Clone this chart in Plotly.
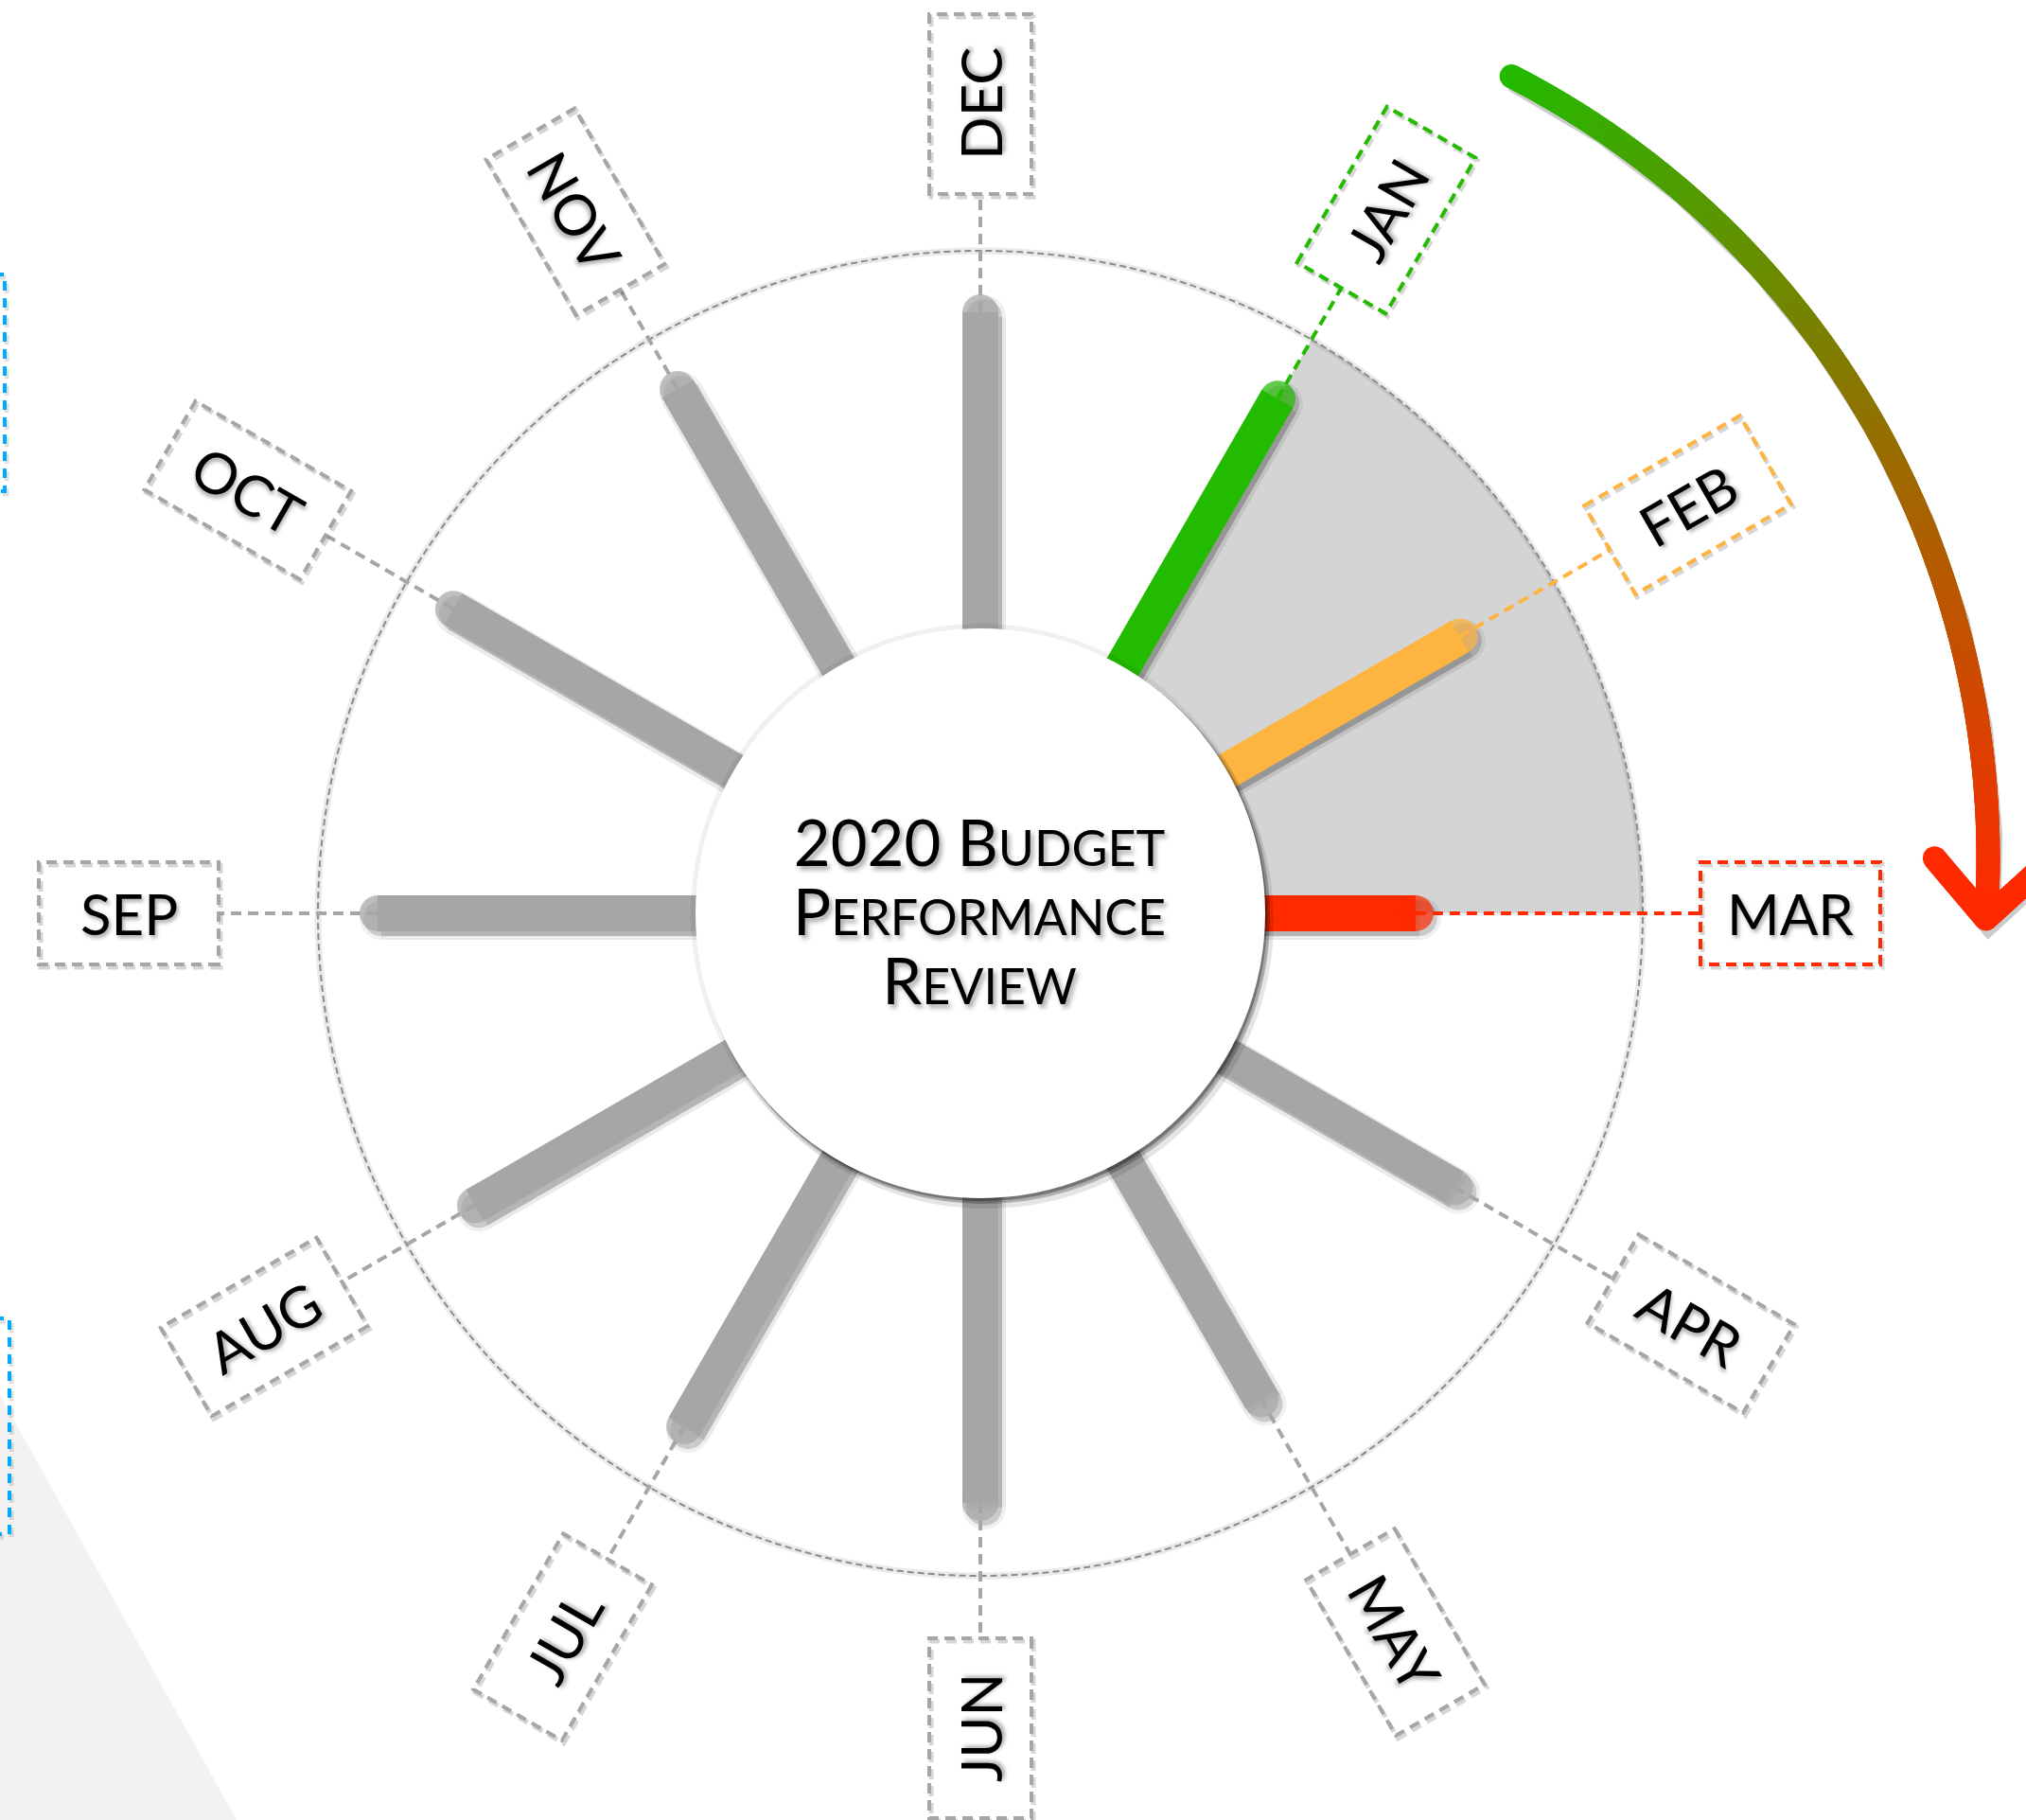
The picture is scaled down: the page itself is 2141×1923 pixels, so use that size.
import numpy as np
import plotly.graph_objects as go

# ------------------------------------------------------------------ data
MONTHS = ["JAN", "FEB", "MAR", "APR", "MAY", "JUN",
          "JUL", "AUG", "SEP", "OCT", "NOV", "DEC"]
PERFORMANCE = [89.7, 83.6, 65.7, 82.7, 84.7, 89.0,
               89.4, 88.1, 91.0, 91.9, 91.4, 90.7]
STATUS = ["good", "warning", "bad", "pending", "pending", "pending",
          "pending", "pending", "pending", "pending", "pending", "pending"]
REVIEWED_MONTHS = ["JAN", "FEB", "MAR"]
FULL_SCALE = 100
TITLE_LINES = ["2020 Budget", "Performance", "Review"]

# ------------------------------------------------------------------ style / layout
STATUS_COLORS = {"good": "#22bb00", "warning": "#fdb441",
                 "bad": "#ff2a00", "pending": "#a6a6a6"}
W, H = 2141, 1923
OFF = 0                       # body margin removed via post_script
CX, CY = 1036, 965            # chart centre in screen px
PX_PER_UNIT = 7.0
POLAR_R_PX = 940
RMAX = POLAR_R_PX / PX_PER_UNIT
SPOKE_W = 38
INNER_R_PX = 301
LABEL_R_PX = [858, 863, 856, 867, 877, 861, 883, 874, 900, 894, 856, 855]
BOX_L, BOX_W = 190, 108
SH_DX, SH_DY = 4, 5
LABEL_FONT = "Lato, 'Noto Sans', sans-serif"
TITLE_FONT = "Lato, 'Noto Sans', sans-serif"


def polar_domain(dx=0, dy=0):
    px = CX - OFF + dx
    yb = H - (CY - OFF + dy)
    return dict(x=[(px - POLAR_R_PX) / W, (px + POLAR_R_PX) / W],
                y=[(yb - POLAR_R_PX) / H, (yb + POLAR_R_PX) / H])


def polar_layout(dom, category):
    aa = dict(visible=False, rotation=60, direction="clockwise")
    if category:
        aa.update(type="category", categoryarray=MONTHS)
    else:
        aa.update(type="linear", thetaunit="degrees")
    return dict(domain=dom, bgcolor="rgba(0,0,0,0)",
                radialaxis=dict(visible=False, range=[0, RMAX]),
                angularaxis=aa)


fig = go.Figure()

# ---------------- base polar: reviewed sector + outer ring
idx = [MONTHS.index(m) for m in REVIEWED_MONTHS]
fig.add_trace(go.Barpolar(
    r=[FULL_SCALE], theta=[np.mean(idx) * 30], width=[(max(idx) - min(idx)) * 30],
    marker=dict(color="#d4d4d4", line=dict(width=0)),
    subplot="polar", hoverinfo="skip"))
ring = np.linspace(0, 360, 721)
fig.add_trace(go.Scatterpolar(r=[FULL_SCALE] * len(ring), theta=ring, mode="lines",
                              line=dict(color="black", width=7), opacity=0.08,
                              subplot="polar", hoverinfo="skip"))
fig.add_trace(go.Scatterpolar(r=[FULL_SCALE] * len(ring), theta=ring, mode="lines",
                              line=dict(color="#8a8a8a", width=2, dash="7px,4px"),
                              subplot="polar", hoverinfo="skip"))

# ---------------- shadow polar (offset)
for m, v, s in zip(MONTHS, PERFORMANCE, STATUS):
    for w, op in ((SPOKE_W + 8, 0.08), (SPOKE_W, 0.22)):
        fig.add_trace(go.Scatterpolar(
            r=[0, v], theta=[m, m], mode="lines+markers",
            line=dict(color="black", width=w),
            marker=dict(size=[0, w], color="black", line=dict(width=0)),
            opacity=op, subplot="polar2", hoverinfo="skip"))

# ---------------- main polar: connectors + spokes
for i, (m, v, s) in enumerate(zip(MONTHS, PERFORMANCE, STATUS)):
    r_box = (LABEL_R_PX[i] - BOX_L / 2) / PX_PER_UNIT
    fig.add_trace(go.Scatterpolar(
        r=[v, r_box], theta=[m, m], mode="lines",
        line=dict(color=STATUS_COLORS[s], width=4, dash="11px,7px"),
        subplot="polar3", hoverinfo="skip"))
for m, v, s in zip(MONTHS, PERFORMANCE, STATUS):
    c = STATUS_COLORS[s]
    fig.add_trace(go.Scatterpolar(
        r=[0, v], theta=[m, m], mode="lines+markers",
        line=dict(color=c, width=SPOKE_W),
        marker=dict(size=[0, SPOKE_W], color=c, line=dict(width=0)),
        subplot="polar3", name=m,
        hovertemplate=m + ": %{r}<extra></extra>"))

# ---------------- gradient arrow (cartesian screen-pixel space)
ARC_CX, ARC_CY, ARC_R = 1173, 906, 928
ARC_A0, ARC_A1 = 62.8, -4.0
a = np.radians(np.linspace(ARC_A0, ARC_A1, 700))
ax_ = ARC_CX + ARC_R * np.cos(a)
ay_ = ARC_CY - ARC_R * np.sin(a)
c0, c1 = np.array([34, 187, 0]), np.array([255, 42, 0])
tt = np.linspace(0, 1, len(a))
cols = ["rgb(%d,%d,%d)" % tuple((c0 + (c1 - c0) * t).round()) for t in tt]
ex, ey = ax_[-1], ay_[-1]
b = np.array([ax_[-8] - ex, ay_[-8] - ey])
b /= np.linalg.norm(b)
wings = []
for ang in (44, -44):
    ra = np.radians(ang)
    rb = np.array([b[0] * np.cos(ra) - b[1] * np.sin(ra), b[0] * np.sin(ra) + b[1] * np.cos(ra)])
    wings.append((ex + 84 * rb[0], ey + 84 * rb[1]))
AW = 25
fig.add_trace(go.Scatter(x=ax_ + 3, y=ay_ + 4, mode="lines",
                         line=dict(color="black", width=AW), opacity=0.2, hoverinfo="skip"))
fig.add_trace(go.Scatter(x=[wings[0][0] + 3, ex + 3, wings[1][0] + 3],
                         y=[wings[0][1] + 4, ey + 4, wings[1][1] + 4], mode="lines",
                         line=dict(color="black", width=AW), opacity=0.2, hoverinfo="skip"))
fig.add_trace(go.Scatter(x=ax_, y=ay_, mode="markers",
                         marker=dict(size=AW, color=cols, line=dict(width=0)), hoverinfo="skip"))
hx, hy = [], []
for wx, wy in wings:
    s_ = np.linspace(0, 1, 60)
    hx += list(ex + (wx - ex) * s_)
    hy += list(ey + (wy - ey) * s_)
fig.add_trace(go.Scatter(x=hx, y=hy, mode="markers",
                         marker=dict(size=AW, color=cols[-1], line=dict(width=0)), hoverinfo="skip"))

# ---------------- shapes
shapes = []
shapes.append(dict(type="path", xref="x", yref="y", layer="below",
                   path="M 0,1474 L 250,1923 L 0,1923 Z",
                   fillcolor="#f2f2f2", line=dict(width=0)))
for (x0, x1, y0, y1) in ((-60, 5, 290, 519), (-60, 10, 1393, 1621)):
    shapes.append(dict(type="rect", xref="x", yref="y", x0=x0 + 2, x1=x1 + 2, y0=y0 + 3, y1=y1 + 3,
                       line=dict(color="rgba(0,0,0,0.12)", width=5, dash="10px,8px"), layer="above"))
    shapes.append(dict(type="rect", xref="x", yref="y", x0=x0, x1=x1, y0=y0, y1=y1,
                       line=dict(color="#00aaff", width=4, dash="10px,8px"), layer="above"))

annotations = []
for i, (m, s) in enumerate(zip(MONTHS, STATUS)):
    th = 60 - 30 * i
    thn = ((th + 180) % 360) - 180
    tr = np.radians(th)
    ux, uy = np.cos(tr), -np.sin(tr)
    vx, vy = np.sin(tr), np.cos(tr)
    R = LABEL_R_PX[i]
    cx, cy = CX + R * ux, CY + R * uy
    pts = []
    for su, sv in ((-1, -1), (1, -1), (1, 1), (-1, 1)):
        pts.append((cx + su * ux * BOX_L / 2 + sv * vx * BOX_W / 2,
                    cy + su * uy * BOX_L / 2 + sv * vy * BOX_W / 2))

    def pth(dx=0, dy=0):
        return "M " + " L ".join("%.1f,%.1f" % (p[0] + dx, p[1] + dy) for p in pts) + " Z"

    shapes.append(dict(type="path", xref="x", yref="y", path=pth(2, 3), layer="above",
                       line=dict(color="rgba(0,0,0,0.16)", width=5, dash="11px,7px")))
    shapes.append(dict(type="path", xref="x", yref="y", path=pth(), layer="above",
                       line=dict(color=STATUS_COLORS[s], width=4, dash="11px,7px")))
    if -90 < thn <= 90:
        ta = -thn
    else:
        ta = ((-(thn - 180) + 180) % 360) - 180
    annotations.append(dict(x=cx, y=cy, xref="x", yref="y", text=m, showarrow=False,
                            textangle=ta, xanchor="center", yanchor="middle",
                            font=dict(family=LABEL_FONT, size=60, color="black",
                                      shadow="2px 3px 4px rgba(0,0,0,0.35)")))

# centre disc with shadow
for dx, dy, rr, col in ((0, 0, 306, "rgba(0,0,0,0.06)"), (6, 8, 304, "rgba(0,0,0,0.10)"),
                        (4, 5, 302, "rgba(0,0,0,0.22)"), (2, 3, 301, "rgba(0,0,0,0.30)")):
    shapes.append(dict(type="circle", xref="x", yref="y", layer="above",
                       x0=CX + dx - rr, x1=CX + dx + rr, y0=CY + dy - rr, y1=CY + dy + rr,
                       fillcolor=col, line=dict(width=0)))
shapes.append(dict(type="circle", xref="x", yref="y", layer="above",
                   x0=CX - INNER_R_PX, x1=CX + INNER_R_PX, y0=CY - INNER_R_PX, y1=CY + INNER_R_PX,
                   fillcolor="white", line=dict(width=0)))


def small_caps(txt, big=67, small=52):
    out = ""
    for ch in txt:
        if ch.islower():
            out += "<span style='font-size:%dpx'>%s</span>" % (small, ch.upper())
        else:
            out += "<span style='font-size:%dpx'>%s</span>" % (big, ch)
    return out


# one text block; base size 56 gives ~73 px line pitch like the reference
annotations.append(dict(x=1035, y=962, xref="x", yref="y",
                        text="<br>".join(small_caps(t) for t in TITLE_LINES),
                        showarrow=False, xanchor="center", yanchor="middle", align="center",
                        font=dict(family=TITLE_FONT, size=56, color="black",
                                  shadow="3px 4px 5px rgba(0,0,0,0.35)")))

fig.update_layout(
    width=W, height=H, margin=dict(l=0, r=0, t=0, b=0),
    template="none", showlegend=False,
    paper_bgcolor="white", plot_bgcolor="rgba(0,0,0,0)",
    xaxis=dict(range=[OFF, W + OFF], visible=False, domain=[0, 1], fixedrange=True),
    yaxis=dict(range=[H + OFF, OFF], visible=False, domain=[0, 1], fixedrange=True),
    polar=polar_layout(polar_domain(), False),
    polar2=polar_layout(polar_domain(SH_DX, SH_DY), True),
    polar3=polar_layout(polar_domain(), True),
    shapes=shapes, annotations=annotations,
)

fig.write_html("out.html", config={"displayModeBar": False},
               post_script="document.body.style.margin='0px';document.body.style.overflow='hidden';")
